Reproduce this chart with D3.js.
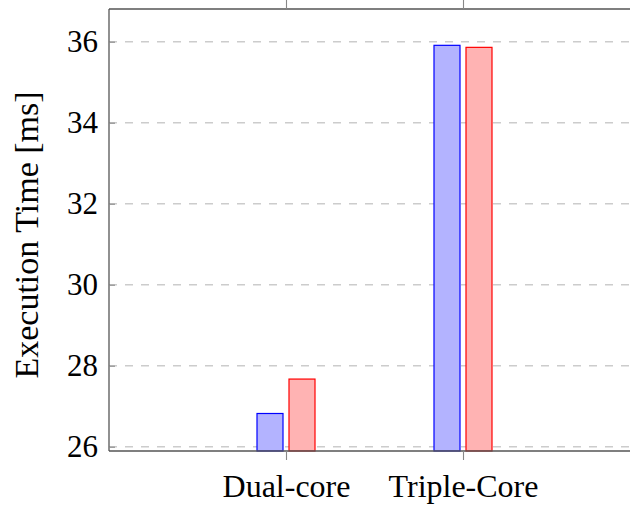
<!DOCTYPE html>
<html>
<head>
<meta charset="utf-8">
<script src="https://cdn.jsdelivr.net/npm/d3@7"></script>
<style>
  html, body { margin: 0; padding: 0; background: #fff; }
  svg { display: block; }
  text { font-family: "Liberation Serif", "DejaVu Serif", serif; fill: #000; }
</style>
</head>
<body>
<div id="chart"></div>
<script>
// Execution time per CPU configuration, two runs per configuration
const categories = ["Dual-core", "Triple-Core"];
const seriesA = [26.82, 35.91];   // blue bars
const seriesB = [27.67, 35.86];   // red bars
const yTicks = [26, 28, 30, 32, 34, 36];
const yLabel = "Execution Time [ms]";

const width = 630, height = 505;
const box = { left: 109, top: 9, right: 640, bottom: 451 };

const svg = d3.select("#chart").append("svg")
  .attr("width", width).attr("height", height);

// category positions 1..n on a linear axis running from 0 to n+1
const x = d3.scaleLinear().domain([0, categories.length + 1]).range([box.left, box.right]);
const y = d3.scaleLinear().domain([25.894, 36.807]).range([box.bottom, box.top]);

// horizontal dashed grid
svg.append("g").selectAll("line").data(yTicks).join("line")
  .attr("x1", box.left).attr("x2", width)
  .attr("y1", d => y(d)).attr("y2", d => y(d))
  .attr("stroke", "#cccccc").attr("stroke-width", 1.4)
  .attr("stroke-dasharray", "8,8");

// bars
const barW = 27, shift = 16;
const series = [
  { values: seriesA, fill: "#b3b3ff", stroke: "#0000ff", dx: -shift },
  { values: seriesB, fill: "#ffb3b3", stroke: "#ff0000", dx: shift }
];
series.forEach(s => {
  svg.append("g").selectAll("rect").data(s.values).join("rect")
    .attr("x", (d, i) => x(i + 1) + s.dx - barW / 2 + 0.5)
    .attr("width", barW - 1)
    .attr("y", d => y(d))
    .attr("height", d => y.range()[0] - y(d))
    .attr("fill", s.fill)
    .attr("stroke", s.stroke)
    .attr("stroke-width", 1.2);
});

// axis frame (left, top, bottom)
const frame = svg.append("g").attr("stroke", "#555").attr("stroke-width", 1.3).attr("fill", "none");
frame.append("line").attr("x1", box.left).attr("x2", box.left).attr("y1", box.top).attr("y2", box.bottom);
frame.append("line").attr("x1", box.left).attr("x2", width).attr("y1", box.top).attr("y2", box.top);
frame.append("line").attr("x1", box.left).attr("x2", width).attr("y1", box.bottom).attr("y2", box.bottom);

// y axis: inward ticks and labels
const yAxis = d3.axisLeft(y).tickValues(yTicks).tickSizeInner(-6).tickSizeOuter(0).tickPadding(11).tickFormat(d3.format("d"));
const gy = svg.append("g").attr("transform", `translate(${box.left},0)`).call(yAxis);
gy.select(".domain").remove();
gy.selectAll(".tick line").attr("stroke", "#888").attr("stroke-width", 1.1);
gy.selectAll(".tick text").attr("font-size", 31).attr("dy", "0.33em")
  .style("font-family", "'Liberation Serif', serif").attr("fill", "#000");

// x axis: category ticks pointing outward at bottom and top
const xAxis = d3.axisBottom(x).tickValues(categories.map((c, i) => i + 1))
  .tickSizeInner(9).tickSizeOuter(0).tickPadding(14).tickFormat((d) => categories[d - 1]);
const gx = svg.append("g").attr("transform", `translate(0,${box.bottom})`).call(xAxis);
gx.select(".domain").remove();
gx.selectAll(".tick line").attr("stroke", "#888").attr("stroke-width", 1.1);
gx.selectAll(".tick text").attr("font-size", 32).attr("dy", "0.71em")
  .style("font-family", "'Liberation Serif', serif").attr("fill", "#000");

const xTop = d3.axisTop(x).tickValues(categories.map((c, i) => i + 1))
  .tickSizeInner(10).tickSizeOuter(0).tickFormat("");
const gt = svg.append("g").attr("transform", `translate(0,${box.top})`).call(xTop);
gt.select(".domain").remove();
gt.selectAll(".tick line").attr("stroke", "#888").attr("stroke-width", 1.1);

// y axis title
svg.append("text")
  .attr("transform", `translate(38,${(box.top + box.bottom) / 2 + 5}) rotate(-90)`)
  .attr("text-anchor", "middle")
  .attr("font-size", 34)
  .text(yLabel);
</script>
</body>
</html>
